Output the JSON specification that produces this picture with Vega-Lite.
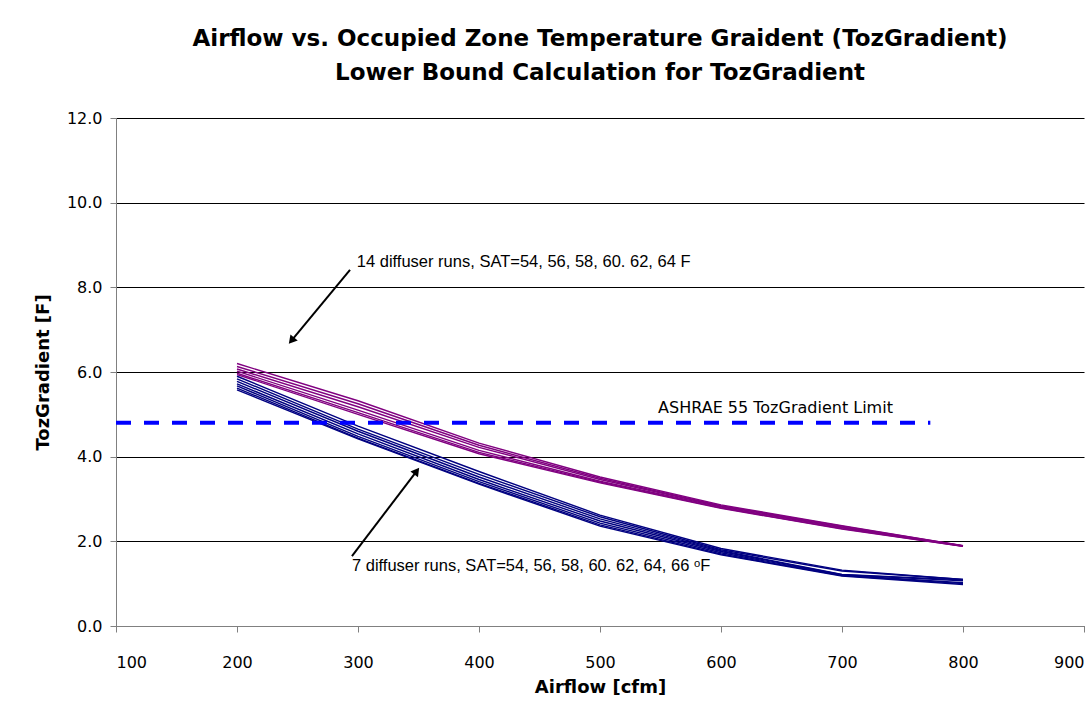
{
  "$schema": "https://vega.github.io/schema/vega-lite/v6.json",
  "width": 968,
  "height": 508,
  "autosize": {"type": "none"},
  "padding": {"left": 116, "top": 118, "right": 2, "bottom": 97},
  "background": "white",
  "title": {
    "text": ["Airflow vs. Occupied Zone Temperature Graident (TozGradient)", "Lower Bound Calculation for TozGradient"],
    "font": "DejaVu Sans",
    "fontSize": 23,
    "fontWeight": "bold",
    "color": "black",
    "lineHeight": 34,
    "anchor": "middle",
    "offset": 25
  },
  "config": {
    "view": {"stroke": null},
    "axis": {
      "labelFont": "DejaVu Sans",
      "labelFontSize": 16,
      "labelColor": "black",
      "titleFont": "DejaVu Sans",
      "titleFontSize": 18,
      "titleFontWeight": "bold",
      "titleColor": "black",
      "domainColor": "#808080",
      "tickColor": "#808080",
      "tickSize": 6,
      "gridColor": "black",
      "gridOpacity": 1
    }
  },
  "datasets": {
    "curves": [
      {"run": "P1", "group": "14 diffuser", "airflow": 200, "gradient": 6.20},
      {"run": "P1", "group": "14 diffuser", "airflow": 300, "gradient": 5.32},
      {"run": "P1", "group": "14 diffuser", "airflow": 400, "gradient": 4.32},
      {"run": "P1", "group": "14 diffuser", "airflow": 500, "gradient": 3.52},
      {"run": "P1", "group": "14 diffuser", "airflow": 600, "gradient": 2.86},
      {"run": "P1", "group": "14 diffuser", "airflow": 700, "gradient": 2.37},
      {"run": "P1", "group": "14 diffuser", "airflow": 800, "gradient": 1.90},
      {"run": "P2", "group": "14 diffuser", "airflow": 200, "gradient": 6.13},
      {"run": "P2", "group": "14 diffuser", "airflow": 300, "gradient": 5.25},
      {"run": "P2", "group": "14 diffuser", "airflow": 400, "gradient": 4.27},
      {"run": "P2", "group": "14 diffuser", "airflow": 500, "gradient": 3.49},
      {"run": "P2", "group": "14 diffuser", "airflow": 600, "gradient": 2.84},
      {"run": "P2", "group": "14 diffuser", "airflow": 700, "gradient": 2.36},
      {"run": "P2", "group": "14 diffuser", "airflow": 800, "gradient": 1.90},
      {"run": "P3", "group": "14 diffuser", "airflow": 200, "gradient": 6.07},
      {"run": "P3", "group": "14 diffuser", "airflow": 300, "gradient": 5.18},
      {"run": "P3", "group": "14 diffuser", "airflow": 400, "gradient": 4.22},
      {"run": "P3", "group": "14 diffuser", "airflow": 500, "gradient": 3.46},
      {"run": "P3", "group": "14 diffuser", "airflow": 600, "gradient": 2.83},
      {"run": "P3", "group": "14 diffuser", "airflow": 700, "gradient": 2.34},
      {"run": "P3", "group": "14 diffuser", "airflow": 800, "gradient": 1.89},
      {"run": "P4", "group": "14 diffuser", "airflow": 200, "gradient": 6.02},
      {"run": "P4", "group": "14 diffuser", "airflow": 300, "gradient": 5.10},
      {"run": "P4", "group": "14 diffuser", "airflow": 400, "gradient": 4.15},
      {"run": "P4", "group": "14 diffuser", "airflow": 500, "gradient": 3.42},
      {"run": "P4", "group": "14 diffuser", "airflow": 600, "gradient": 2.81},
      {"run": "P4", "group": "14 diffuser", "airflow": 700, "gradient": 2.32},
      {"run": "P4", "group": "14 diffuser", "airflow": 800, "gradient": 1.89},
      {"run": "P5", "group": "14 diffuser", "airflow": 200, "gradient": 5.97},
      {"run": "P5", "group": "14 diffuser", "airflow": 300, "gradient": 5.04},
      {"run": "P5", "group": "14 diffuser", "airflow": 400, "gradient": 4.10},
      {"run": "P5", "group": "14 diffuser", "airflow": 500, "gradient": 3.40},
      {"run": "P5", "group": "14 diffuser", "airflow": 600, "gradient": 2.79},
      {"run": "P5", "group": "14 diffuser", "airflow": 700, "gradient": 2.30},
      {"run": "P5", "group": "14 diffuser", "airflow": 800, "gradient": 1.88},
      {"run": "P6", "group": "14 diffuser", "airflow": 200, "gradient": 5.94},
      {"run": "P6", "group": "14 diffuser", "airflow": 300, "gradient": 5.00},
      {"run": "P6", "group": "14 diffuser", "airflow": 400, "gradient": 4.07},
      {"run": "P6", "group": "14 diffuser", "airflow": 500, "gradient": 3.38},
      {"run": "P6", "group": "14 diffuser", "airflow": 600, "gradient": 2.78},
      {"run": "P6", "group": "14 diffuser", "airflow": 700, "gradient": 2.29},
      {"run": "P6", "group": "14 diffuser", "airflow": 800, "gradient": 1.88},
      {"run": "B1", "group": "7 diffuser", "airflow": 200, "gradient": 5.90},
      {"run": "B1", "group": "7 diffuser", "airflow": 300, "gradient": 4.72},
      {"run": "B1", "group": "7 diffuser", "airflow": 400, "gradient": 3.65},
      {"run": "B1", "group": "7 diffuser", "airflow": 500, "gradient": 2.62},
      {"run": "B1", "group": "7 diffuser", "airflow": 600, "gradient": 1.83},
      {"run": "B1", "group": "7 diffuser", "airflow": 700, "gradient": 1.32},
      {"run": "B1", "group": "7 diffuser", "airflow": 800, "gradient": 1.10},
      {"run": "B2", "group": "7 diffuser", "airflow": 200, "gradient": 5.84},
      {"run": "B2", "group": "7 diffuser", "airflow": 300, "gradient": 4.65},
      {"run": "B2", "group": "7 diffuser", "airflow": 400, "gradient": 3.58},
      {"run": "B2", "group": "7 diffuser", "airflow": 500, "gradient": 2.58},
      {"run": "B2", "group": "7 diffuser", "airflow": 600, "gradient": 1.80},
      {"run": "B2", "group": "7 diffuser", "airflow": 700, "gradient": 1.30},
      {"run": "B2", "group": "7 diffuser", "airflow": 800, "gradient": 1.10},
      {"run": "B3", "group": "7 diffuser", "airflow": 200, "gradient": 5.78},
      {"run": "B3", "group": "7 diffuser", "airflow": 300, "gradient": 4.60},
      {"run": "B3", "group": "7 diffuser", "airflow": 400, "gradient": 3.52},
      {"run": "B3", "group": "7 diffuser", "airflow": 500, "gradient": 2.53},
      {"run": "B3", "group": "7 diffuser", "airflow": 600, "gradient": 1.78},
      {"run": "B3", "group": "7 diffuser", "airflow": 700, "gradient": 1.22},
      {"run": "B3", "group": "7 diffuser", "airflow": 800, "gradient": 1.09},
      {"run": "B4", "group": "7 diffuser", "airflow": 200, "gradient": 5.72},
      {"run": "B4", "group": "7 diffuser", "airflow": 300, "gradient": 4.54},
      {"run": "B4", "group": "7 diffuser", "airflow": 400, "gradient": 3.46},
      {"run": "B4", "group": "7 diffuser", "airflow": 500, "gradient": 2.48},
      {"run": "B4", "group": "7 diffuser", "airflow": 600, "gradient": 1.76},
      {"run": "B4", "group": "7 diffuser", "airflow": 700, "gradient": 1.21},
      {"run": "B4", "group": "7 diffuser", "airflow": 800, "gradient": 1.07},
      {"run": "B5", "group": "7 diffuser", "airflow": 200, "gradient": 5.67},
      {"run": "B5", "group": "7 diffuser", "airflow": 300, "gradient": 4.48},
      {"run": "B5", "group": "7 diffuser", "airflow": 400, "gradient": 3.41},
      {"run": "B5", "group": "7 diffuser", "airflow": 500, "gradient": 2.43},
      {"run": "B5", "group": "7 diffuser", "airflow": 600, "gradient": 1.73},
      {"run": "B5", "group": "7 diffuser", "airflow": 700, "gradient": 1.20},
      {"run": "B5", "group": "7 diffuser", "airflow": 800, "gradient": 1.02},
      {"run": "B6", "group": "7 diffuser", "airflow": 200, "gradient": 5.62},
      {"run": "B6", "group": "7 diffuser", "airflow": 300, "gradient": 4.44},
      {"run": "B6", "group": "7 diffuser", "airflow": 400, "gradient": 3.37},
      {"run": "B6", "group": "7 diffuser", "airflow": 500, "gradient": 2.39},
      {"run": "B6", "group": "7 diffuser", "airflow": 600, "gradient": 1.70},
      {"run": "B6", "group": "7 diffuser", "airflow": 700, "gradient": 1.19},
      {"run": "B6", "group": "7 diffuser", "airflow": 800, "gradient": 1.00},
      {"run": "B7", "group": "7 diffuser", "airflow": 200, "gradient": 5.58},
      {"run": "B7", "group": "7 diffuser", "airflow": 300, "gradient": 4.42},
      {"run": "B7", "group": "7 diffuser", "airflow": 400, "gradient": 3.35},
      {"run": "B7", "group": "7 diffuser", "airflow": 500, "gradient": 2.36},
      {"run": "B7", "group": "7 diffuser", "airflow": 600, "gradient": 1.68},
      {"run": "B7", "group": "7 diffuser", "airflow": 700, "gradient": 1.18},
      {"run": "B7", "group": "7 diffuser", "airflow": 800, "gradient": 0.98}
    ],
    "limit": [{"airflow": 100, "airflow_end": 773, "gradient": 4.8, "label": "ASHRAE 55 TozGradient Limit", "label_airflow": 548, "label_gradient": 5.15}],
    "notes": [
      {"text": "14 diffuser runs, SAT=54, 56, 58, 60. 62, 64 F", "airflow": 299, "gradient": 8.6},
      {"text": "7 diffuser runs, SAT=54, 56, 58, 60. 62, 64, 66 ᵒF", "airflow": 295, "gradient": 1.42}
    ],
    "arrow1": [{"airflow": 293.4, "gradient": 8.41, "airflow_end": 245, "gradient_end": 6.74}],
    "arrow2": [{"airflow": 295, "gradient": 1.65, "airflow_end": 348.5, "gradient_end": 3.66}]
  },
  "layer": [
    {
      "data": {"name": "curves"},
      "mark": {"type": "line", "strokeWidth": 1.4},
      "encoding": {
        "x": {
          "field": "airflow", "type": "quantitative",
          "scale": {"domain": [100, 900]},
          "axis": {"title": "Airflow [cfm]", "values": [100, 200, 300, 400, 500, 600, 700, 800, 900], "grid": false, "labelPadding": 22, "titlePadding": 8}
        },
        "y": {
          "field": "gradient", "type": "quantitative",
          "scale": {"domain": [0, 12]},
          "axis": {"title": "TozGradient [F]", "values": [0, 2, 4, 6, 8, 10, 12], "format": ".1f", "grid": true, "labelPadding": 8, "titlePadding": 14}
        },
        "color": {"field": "group", "type": "nominal", "scale": {"domain": ["14 diffuser", "7 diffuser"], "range": ["#800080", "#000080"]}, "legend": null},
        "detail": {"field": "run", "type": "nominal"}
      }
    },
    {
      "data": {"name": "limit"},
      "mark": {"type": "rule", "color": "#0000FF", "strokeWidth": 4, "strokeDash": [15, 13]},
      "encoding": {
        "x": {"field": "airflow", "type": "quantitative"},
        "x2": {"field": "airflow_end"},
        "y": {"field": "gradient", "type": "quantitative"}
      }
    },
    {
      "data": {"name": "limit"},
      "mark": {"type": "text", "font": "DejaVu Sans", "fontSize": 16, "align": "left", "baseline": "middle", "color": "black"},
      "encoding": {
        "x": {"field": "label_airflow", "type": "quantitative"},
        "y": {"field": "label_gradient", "type": "quantitative"},
        "text": {"field": "label"}
      }
    },
    {
      "data": {"name": "notes"},
      "mark": {"type": "text", "font": "Liberation Sans", "fontSize": 16.5, "align": "left", "baseline": "middle", "color": "black"},
      "encoding": {
        "x": {"field": "airflow", "type": "quantitative"},
        "y": {"field": "gradient", "type": "quantitative"},
        "text": {"field": "text"}
      }
    },
    {
      "data": {"name": "arrow1"},
      "mark": {"type": "rule", "color": "black", "strokeWidth": 2},
      "encoding": {
        "x": {"field": "airflow", "type": "quantitative"},
        "y": {"field": "gradient", "type": "quantitative"},
        "x2": {"field": "airflow_end"},
        "y2": {"field": "gradient_end"}
      }
    },
    {
      "data": {"name": "arrow1"},
      "mark": {"type": "point", "shape": "triangle-up", "filled": true, "color": "black", "size": 90, "opacity": 1, "angle": 220},
      "encoding": {
        "x": {"field": "airflow_end", "type": "quantitative"},
        "y": {"field": "gradient_end", "type": "quantitative"}
      }
    },
    {
      "data": {"name": "arrow2"},
      "mark": {"type": "rule", "color": "black", "strokeWidth": 2},
      "encoding": {
        "x": {"field": "airflow", "type": "quantitative"},
        "y": {"field": "gradient", "type": "quantitative"},
        "x2": {"field": "airflow_end"},
        "y2": {"field": "gradient_end"}
      }
    },
    {
      "data": {"name": "arrow2"},
      "mark": {"type": "point", "shape": "triangle-up", "filled": true, "color": "black", "size": 90, "opacity": 1, "angle": 37.5},
      "encoding": {
        "x": {"field": "airflow_end", "type": "quantitative"},
        "y": {"field": "gradient_end", "type": "quantitative"}
      }
    }
  ]
}
